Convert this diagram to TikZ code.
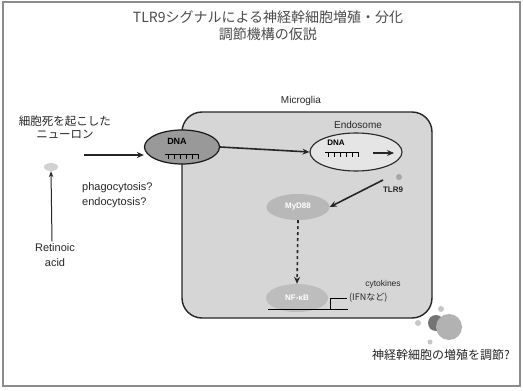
\documentclass[tikz,border=0pt]{standalone}
\usepackage{fontspec}
\setmainfont{Liberation Sans}
\newfontfamily\jp{Noto Sans CJK JP}
\usetikzlibrary{arrows.meta,shapes.geometric,positioning}

\tikzset{
  txt/.style={inner sep=0pt, text=black!85},
  jptxt/.style={txt, font=\jp\fontsize{11.5}{13}\selectfont, align=center},
  organelle/.style={ellipse, inner sep=0pt},
  flow/.style={-{Stealth[length=7pt,width=6pt]}, line width=1.6pt, black!85},
}

% DNA ladder: a bar with short rungs hanging from it
\newcommand{\dnaladder}[2]{%
  \draw[line width=1pt, #2] (#1) ++(-17,0) -- ++(34,0);
  \foreach \dx in {-14,-8,-2,4,10,16}
    \draw[line width=1pt, #2] (#1) ++(\dx,0) -- ++(0,5);
}

\begin{document}
\begin{tikzpicture}[x=1pt, y=-1pt]
  \useasboundingbox (0,0) rectangle (523,391);
  \fill[white] (0,0) rectangle (523,391);
  \draw[black!45, line width=1.2pt] (3,2) rectangle (520,386);

  % title
  \node[jptxt, font=\jp\fontsize{14}{17}\selectfont, text=black!70] (title) at (268,26)
    {TLR9シグナルによる神経幹細胞増殖・分化\\調節機構の仮説};

  % microglia
  \draw[rounded corners=20pt, fill=black!16, draw=black!85, line width=1.4pt]
    (182,112) rectangle (432,318);
  \node[txt, font=\fontsize{10}{12}\selectfont] (mglabel) at (301,101) {Microglia};

  % dying neuron and its DNA
  \node[jptxt] (neuron) at (65,127) {細胞死を起こした\\ニューロン};
  \node[organelle, fill=black!18, minimum width=14, minimum height=8] (cell) at (51,167) {};
  \node[txt, font=\fontsize{11}{15}\selectfont, align=center] (ra) at (55,255) {Retinoic\\acid};
  \node[txt, font=\fontsize{11}{15}\selectfont, align=left, anchor=west] (uptake) at (82,195)
    {phagocytosis?\\endocytosis?};
  \coordinate (neurR) at (84,155);

  \node[organelle, draw=black!90, line width=1.2pt, fill=black!40,
        minimum width=75, minimum height=34] (dnaout) at (182,147) {};
  \node[txt, font=\bfseries\fontsize{9}{10}\selectfont, text=black] (dnaoutlbl) at (177,141) {DNA};
  \dnaladder{182,154}{black}

  % endosome with TLR9
  \node[organelle, draw=black!85, line width=1.1pt, fill=black!10,
        minimum width=92, minimum height=38] (endo) at (356,152) {};
  \node[txt, font=\fontsize{10}{12}\selectfont] (endolbl) at (358,125) {Endosome};
  \node[txt, font=\bfseries\fontsize{8}{10}\selectfont, text=black] (dnainlbl) at (336,143) {DNA};
  \dnaladder{342,152}{black}
  \coordinate (tlrA) at (373,153);
  \coordinate (tlrB) at (394,153);
  \fill[black!35] (399,177) circle (3);
  \node[txt, font=\bfseries\fontsize{8}{10}\selectfont] (tlr) at (393,190) {TLR9};

  % signalling and nucleus
  \node[organelle, fill=black!28, minimum width=63, minimum height=26] (myd) at (298,207) {};
  \node[txt, text=white, font=\bfseries\fontsize{8}{10}\selectfont] at (myd) {MyD88};
  \coordinate (tlrout) at (383,180);

  \node[organelle, fill=black!26, minimum width=62, minimum height=28] (nuc) at (297,298) {};
  \node[txt, text=white, font=\bfseries\fontsize{8}{10}\selectfont] at (nuc) {NF-κB};
  \coordinate (geneL) at (268,309);
  \coordinate (geneR) at (348,309);
  \coordinate (tss) at (330,309);
  \coordinate (tssend) at (347,298);
  \node[txt, font=\fontsize{8.5}{10}\selectfont] (cyto) at (383,284) {cytokines};
  \node[txt, font=\jp\fontsize{9}{10}\selectfont, anchor=west] (ifn) at (349,298) {(IFNなど)};

  % neural stem cells
  \fill[black!22] (418,323) circle (3);
  \fill[black!22] (441,309) circle (3);
  \fill[black!22] (430,342) circle (2.5);
  \fill[black!55] (436,323) circle (8);
  \fill[black!30] (449,327) circle (13);
  \node[jptxt, font=\jp\fontsize{12}{14}\selectfont] (nsc) at (441,355) {神経幹細胞の増殖を調節?};

  % connectors
  \draw[flow, line width=2.6pt] (neurR) -- (dnaout.west |- neurR);
  \draw[-{Stealth[length=6pt]}, line width=1pt, black!85] (ra.north) ++(-3,-2) -- (cell.south);
  \draw[flow] (dnaout.east) -- (endo.west);
  \draw[flow] (tlrA) -- (tlrB);
  \draw[flow] (tlrout) -- (myd.east);
  \draw[flow, dashed] (myd.south) -- (nuc.north);
  \draw[line width=1pt] (geneL) -- (geneR);
  \draw[line width=1pt] (tss) |- (tssend);
\end{tikzpicture}
\end{document}
